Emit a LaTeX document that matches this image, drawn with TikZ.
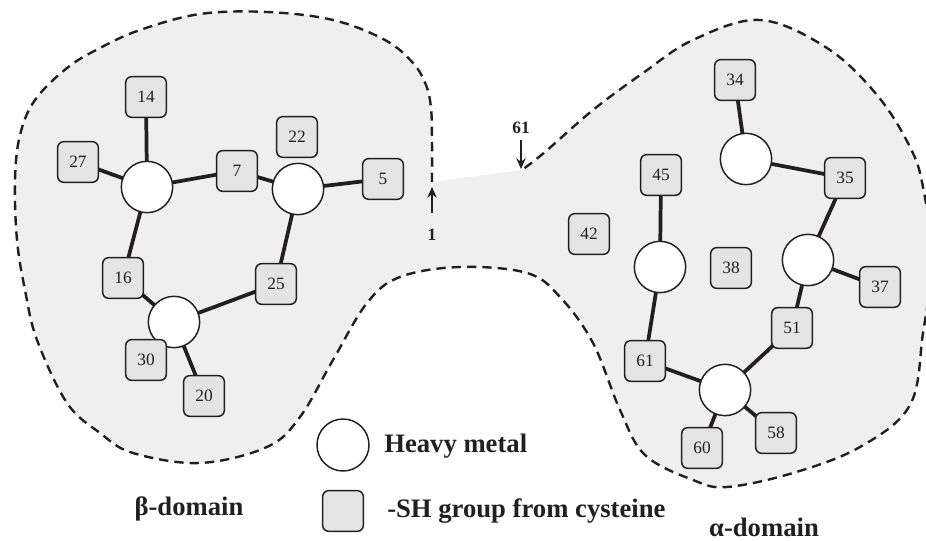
\documentclass[tikz,border=0pt]{standalone}
\usepackage{fontspec}
\setmainfont{Liberation Serif}
\usetikzlibrary{arrows.meta}
\definecolor{domfill}{HTML}{EEEFEE}
\definecolor{boxfill}{HTML}{E3E4E3}
\definecolor{ink}{HTML}{231F20}
\pgfdeclarelayer{bglayer}
\pgfdeclarelayer{edgelayer}
\pgfsetlayers{bglayer,edgelayer,main}
\tikzset{
  sh/.style={draw=ink, line width=1.1pt, fill=boxfill, rounded corners=4.5pt, minimum size=30.5pt, inner sep=0pt, font=\fontsize{13}{13}\selectfont, text=ink},
  metal/.style={draw=ink, line width=1.1pt, fill=white, circle, minimum size=38.5pt, inner sep=0pt},
  bond/.style={draw=ink, line width=2.8pt},
  outline/.style={draw=ink, line width=1.8pt, dash pattern=on 7pt off 4.5pt},
  lbl/.style={font=\bfseries\fontsize{20}{20}\selectfont, text=ink, inner sep=0pt},
  small/.style={font=\bfseries\fontsize{13}{13}\selectfont, text=ink, inner sep=0pt},
  pointer/.style={draw=ink, line width=1.1pt, -{Stealth[length=8pt,width=7pt]}}
}
\begin{document}
\begin{tikzpicture}[x=0.75pt,y=-0.75pt]
\useasboundingbox (0,0) rectangle (926,541);
\begin{pgfonlayer}{bglayer}
\clip (0,0) rectangle (926,541);
% fill of both domains
\fill[domfill] (432,182) -- plot[smooth, tension=0.6] coordinates {(432,182) (432,140) (431,108) (426,85) (413,63) (385,40) (333,20) (267,12) (200,14) (140,30) (100,48) (67,68) (35,100) (20,135) (15,180) (17,240) (25,290) (37,340) (67,403) (100,433) (133,453) (200,463) (267,447) (300,417) (333,360) (367,303) (400,277) (460,267) (527,273) (560,297) (593,343) (620,410) (645,455) (693,480) (727,487) (793,473) (860,447) (910,405) (923,333) (932,260) (923,187) (910,147) (877,95) (827,48) (760,20) (693,40) (643,73) (593,110) (545,152) (522,170)} -- cycle;
\draw[outline] plot[smooth, tension=0.6] coordinates {(432,182) (432,140) (431,108) (426,85) (413,63) (385,40) (333,20) (267,12) (200,14) (140,30) (100,48) (67,68) (35,100) (20,135) (15,180) (17,240) (25,290) (37,340) (67,403) (100,433) (133,453) (200,463) (267,447) (300,417) (333,360) (367,303) (400,277) (460,267) (527,273) (560,297) (593,343) (620,410) (645,455) (693,480) (727,487) (793,473) (860,447) (910,405) (923,333) (932,260) (923,187) (910,147) (877,95) (827,48) (760,20) (693,40) (643,73) (593,110) (545,152) (522,170)};
\end{pgfonlayer}

% beta domain
\node[metal] (m1) at (147,187) {};
\node[metal] (m2) at (298,189) {};
\node[metal] (m3) at (174,322) {};
\node[sh] (s14) at (146,97) {14};
\node[sh] (s27) at (78,162) {27};
\node[sh] (s7) at (237,171) {7};
\node[sh] (s22) at (297,137) {22};
\node[sh] (s5) at (383,179) {5};
\node[sh] (s16) at (123,278) {16};
\node[sh] (s25) at (276,284) {25};
\node[sh] (s30) at (146,360) {30};
\node[sh] (s20) at (204,396) {20};

% alpha domain
\node[metal] (m4) at (746,159) {};
\node[metal] (m5) at (660,267) {};
\node[metal] (m6) at (808,260) {};
\node[metal] (m7) at (725,390) {};
\node[sh] (s34) at (735,80) {34};
\node[sh] (s45) at (661,175) {45};
\node[sh] (s42) at (589,234) {42};
\node[sh] (s38) at (731,268) {38};
\node[sh] (s35) at (845,178) {35};
\node[sh] (s37) at (880,287) {37};
\node[sh] (s51) at (792,328) {51};
\node[sh] (s61) at (645,361) {61};
\node[sh] (s60) at (702,448) {60};
\node[sh] (s58) at (776,433) {58};

% bonds (behind the nodes)
\begin{pgfonlayer}{edgelayer}
\foreach \a/\b in {m1/s14,m1/s27,m1/s7,m1/s16,m2/s7,m2/s5,m2/s25,m3/s16,m3/s25,m3/s30,m3/s20,m4/s34,m4/s35,m5/s45,m5/s61,m6/s35,m6/s37,m6/s51,m7/s61,m7/s51,m7/s60,m7/s58}
  \draw[bond] (\a.center) -- (\b.center);
\end{pgfonlayer}

% terminal markers
\node[small] (t61) at (521,128) {61};
\coordinate (t61tail) at (521,140);
\coordinate (t61tip) at (521,169);
\draw[pointer] (t61tail) -- (t61tip);
\node[small] (t1) at (432,235) {1};
\coordinate (t1tail) at (432,213);
\coordinate (t1tip) at (432,187);
\draw[pointer] (t1tail) -- (t1tip);

% legend
\node[metal, minimum size=39pt] (legm) at (343,445) {};
\node[lbl, anchor=west] (legmt) at (384,446) {Heavy metal};
\node[sh] (legs) at (343,511) {};
\node[lbl, anchor=west] (legst) at (387,511) {-SH group from cysteine};
\node[lbl] (beta) at (189,509) {β-domain};
\node[lbl] (alpha) at (764,527) {α-domain};
\end{tikzpicture}
\end{document}
